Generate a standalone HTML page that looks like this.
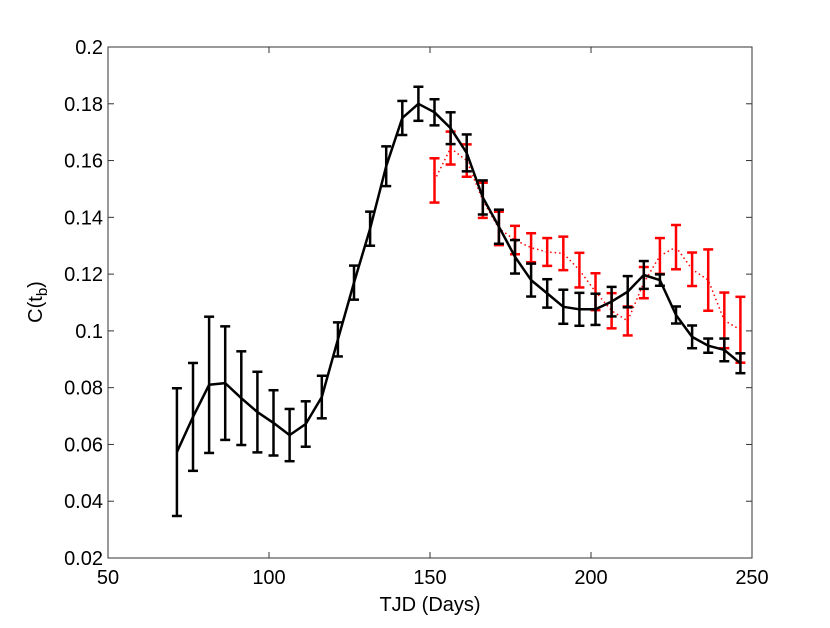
<!DOCTYPE html>
<html><head><meta charset="utf-8"><style>
html,body{margin:0;padding:0;background:#fff;}
svg{display:block;font-family:"Liberation Sans",sans-serif;}
</style></head><body>
<svg id="chart" width="830" height="628" viewBox="0 0 830 628" xmlns="http://www.w3.org/2000/svg">
<rect x="0" y="0" width="830" height="628" fill="#fff"/>
<g id="axes"></g>
<g id="series"></g>
<text x="430" y="611" font-size="20" text-anchor="middle">TJD (Days)</text>
<text transform="translate(42,302) rotate(-90)" font-size="20" text-anchor="middle">C(t<tspan font-size="15" dy="5">b</tspan><tspan dy="-5">)</tspan></text>
</svg>
<script>
const blackCenters=[0.0573,0.0697,0.081,0.0816,0.0763,0.0714,0.0676,0.0633,0.0672,0.0767,0.097,0.117,0.136,0.158,0.175,0.180,0.177,0.1714,0.1627,0.147,0.1367,0.1261,0.1179,0.1132,0.1085,0.1076,0.1076,0.1103,0.1138,0.1197,0.1179,0.1056,0.0979,0.0948,0.0933,0.0886];
const blackErrors=[0.0225,0.019,0.024,0.02,0.0165,0.0142,0.0115,0.0092,0.008,0.0075,0.006,0.006,0.006,0.007,0.006,0.006,0.0046,0.0056,0.0065,0.006,0.006,0.0059,0.0058,0.005,0.006,0.0058,0.0055,0.0052,0.0055,0.0049,0.002,0.003,0.004,0.0025,0.004,0.0035];
const redCenters=[0.153,0.1644,0.160,0.146,0.1361,0.132,0.1293,0.1278,0.1273,0.1214,0.1138,0.1071,0.1035,0.117,0.1264,0.1295,0.1217,0.1179,0.1037,0.1004];
const redErrors=[0.0078,0.0058,0.0057,0.0062,0.0059,0.005,0.0051,0.0049,0.0059,0.0061,0.0065,0.0062,0.0051,0.0055,0.0063,0.0078,0.0059,0.0108,0.0098,0.0116];
const xStart=71.4, xStep=5, redOffset=16;
const xTicks=[50,100,150,200,250];
const yTicks=[0.02,0.04,0.06,0.08,0.1,0.12,0.14,0.16,0.18,0.2];
const yTickLabels=["0.02","0.04","0.06","0.08","0.1","0.12","0.14","0.16","0.18","0.2"];

const L=108,R=752,T=47,B=558;
const sx=v=>L+(v-50)/200*(R-L);
const sy=v=>B-(v-0.02)/0.18*(B-T);
const NS="http://www.w3.org/2000/svg";
function mk(tag,attrs,parent){const e=document.createElementNS(NS,tag);for(const k in attrs)e.setAttribute(k,attrs[k]);parent.appendChild(e);return e;}
const axes=document.getElementById('axes'), series=document.getElementById('series');
const frame=mk('rect',{x:L,y:T,width:R-L,height:B-T,fill:'none',stroke:'#333','stroke-width':1},axes);


xTicks.forEach(v=>{
  const x=sx(v);
  mk('line',{x1:x,y1:B,x2:x,y2:B-6,stroke:'#333'},axes);
  mk('line',{x1:x,y1:T,x2:x,y2:T+6,stroke:'#333'},axes);
  const t=mk('text',{x:x,y:584,'font-size':20,'text-anchor':'middle'},axes);
  t.textContent=v;
  
  
});
yTicks.forEach((v,i)=>{
  const y=sy(v);
  mk('line',{x1:L,y1:y,x2:L+6,y2:y,stroke:'#333'},axes);
  mk('line',{x1:R,y1:y,x2:R-6,y2:y,stroke:'#333'},axes);
  const t=mk('text',{x:L-5,y:y+7,'font-size':20,'text-anchor':'end'},axes);
  t.textContent=yTickLabels[i];
  
  
});
function drawSeries(centers,errors,offset,color,dash,name){
  const g=mk('g',{},series);
  
  
  const pts=centers.map((c,i)=>sx(xStart+(i+offset)*xStep).toFixed(1)+','+sy(c).toFixed(1)).join(' ');
  const pl=mk('polyline',{points:pts,fill:'none',stroke:color,'stroke-width':dash?1.5:2.5,'stroke-dasharray':dash||'none','stroke-linejoin':'round'},g);
  
  
  centers.forEach((c,i)=>{
    const x=sx(xStart+(i+offset)*xStep), y1=sy(c+errors[i]), y2=sy(c-errors[i]);
    const eg=mk('g',{stroke:color,'stroke-width':2.5},g);
    
    
    mk('line',{x1:x,y1:y1,x2:x,y2:y2},eg);
    mk('line',{x1:x-5,y1:y1,x2:x+5,y2:y1},eg);
    mk('line',{x1:x-5,y1:y2,x2:x+5,y2:y2},eg);
  });
}
drawSeries(redCenters,redErrors,redOffset,'#ff0000','1.5,3','red-series');
drawSeries(blackCenters,blackErrors,0,'#000','', 'black-series');
</script>
</body></html>
